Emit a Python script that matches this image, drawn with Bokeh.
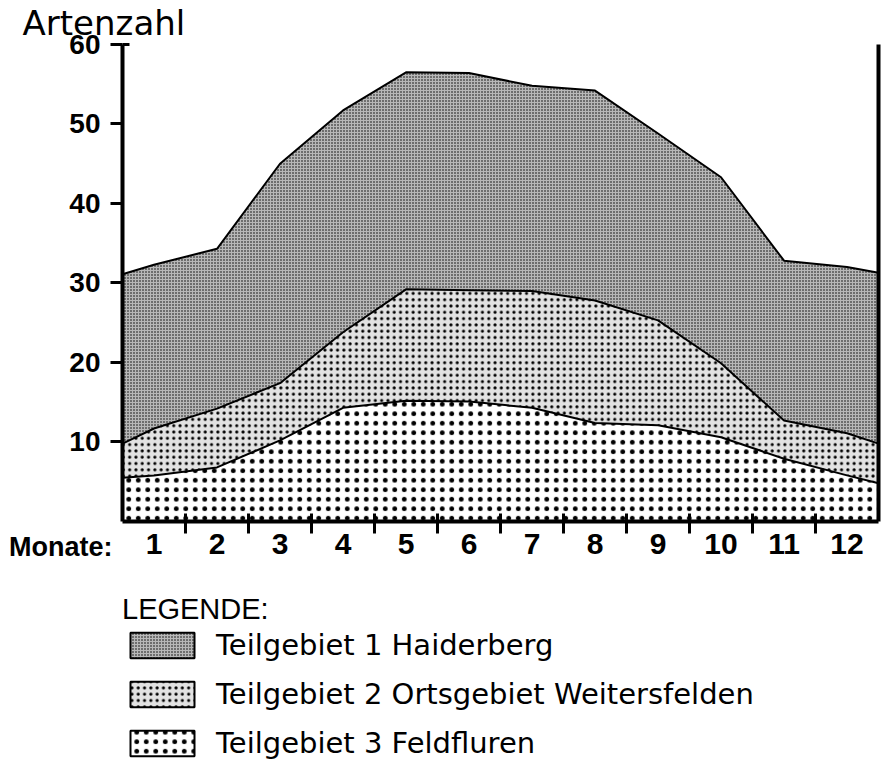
from bokeh.plotting import figure
from bokeh.models import FixedTicker, Range1d, Label, Legend, LegendItem, LinearAxis
from bokeh.embed import file_html
from bokeh.resources import INLINE

# ---- data ----
month_pos = [0, 0.5, 1.5, 2.5, 3.5, 4.5, 5.5, 6.5, 7.5, 8.5, 9.5, 10.5, 11.5, 12]
haiderberg = [31.1, 32.3, 34.3, 45.0, 51.7, 56.5, 56.4, 54.8, 54.2, 48.8, 43.3, 32.8, 32.0, 31.3]
ortsgebiet = [9.8, 11.7, 14.2, 17.4, 23.8, 29.2, 29.1, 29.0, 27.8, 25.3, 19.9, 12.7, 11.1, 9.8]
feldfluren = [5.5, 5.8, 6.8, 10.2, 14.3, 15.2, 15.1, 14.3, 12.4, 12.1, 10.6, 7.9, 5.8, 4.8]
baseline = [0] * len(month_pos)

y_ticks = [10, 20, 30, 40, 50, 60]
month_label_pos = [0.5, 1.5, 2.5, 3.5, 4.5, 5.5, 6.5, 7.5, 8.5, 9.5, 10.5, 11.5]
month_labels = ["1", "2", "3", "4", "5", "6", "7", "8", "9", "10", "11", "12"]
month_bounds = [1, 2, 3, 4, 5, 6, 7, 8, 9, 10, 11]
series_names = ["Teilgebiet 1 Haiderberg",
                "Teilgebiet 2 Ortsgebiet Weitersfelden",
                "Teilgebiet 3 Feldfluren"]

hatch_styles = [dict(fill_color="#b8b8b8", hatch_pattern="dot", hatch_scale=3, hatch_weight=1.4),
                dict(fill_color="#e2e2e2", hatch_pattern="dot", hatch_scale=6.3, hatch_weight=4.2),
                dict(fill_color="white", hatch_pattern="dot", hatch_scale=9.5, hatch_weight=6)]

W, H = 882, 760
p = figure(width=W, height=H, x_range=Range1d(-1.9365, 12.063), y_range=Range1d(-30.06, 65.53),
           output_backend="svg", toolbar_location=None, min_border=0)
p.grid.visible = False
p.outline_line_color = None

a1 = p.varea(x=month_pos, y1=ortsgebiet, y2=haiderberg, hatch_color="black", **hatch_styles[0])
a2 = p.varea(x=month_pos, y1=feldfluren, y2=ortsgebiet, hatch_color="black", **hatch_styles[1])
a3 = p.varea(x=month_pos, y1=baseline, y2=feldfluren, hatch_color="black", **hatch_styles[2])

for ys in (haiderberg, ortsgebiet, feldfluren):
    p.line(month_pos, ys, line_color="black", line_width=2)

# y axis
yax = p.yaxis[0]
yax.fixed_location = 0
yax.bounds = (0, 60)
yax.ticker = FixedTicker(ticks=y_ticks, minor_ticks=[60])
yax.axis_line_width = 4
yax.major_tick_line_width = 3
yax.major_tick_out = 12
yax.major_tick_in = 0
yax.minor_tick_in = 7
yax.minor_tick_out = 0
yax.minor_tick_line_width = 3
yax.major_label_standoff = 10
yax.major_label_text_font = "Liberation Sans"
yax.major_label_text_font_style = "bold"
yax.major_label_text_font_size = "28px"
yax.major_label_text_color = "black"

# x axis
xax = p.xaxis[0]
xax.fixed_location = 0
xax.bounds = (0, 12)
xax.ticker = FixedTicker(ticks=month_label_pos, minor_ticks=month_bounds)
xax.major_label_overrides = {pos: lab for pos, lab in zip(month_label_pos, month_labels)}
xax.axis_line_width = 4
xax.major_tick_line_color = None
xax.major_tick_out = 12
xax.major_tick_in = 0
xax.minor_tick_in = 8
xax.minor_tick_out = 12
xax.minor_tick_line_width = 3
xax.minor_tick_line_color = "black"
xax.major_label_standoff = 0
xax.major_label_text_font = "Liberation Sans"
xax.major_label_text_font_style = "bold"
xax.major_label_text_font_size = "30px"
xax.major_label_text_color = "black"

# right frame line
rax = LinearAxis(fixed_location=12, bounds=(0, 60), ticker=FixedTicker(ticks=[]),
                 axis_line_width=4, major_tick_line_color=None, minor_tick_line_color=None)
p.add_layout(rax, "right")

p.add_layout(Label(x=22, y=H - 22, x_units="screen", y_units="screen", text="Artenzahl",
                   text_font="DejaVu Sans", text_font_size="34px", text_color="black",
                   text_baseline="middle"))
p.add_layout(Label(x=112, y=H - 546, x_units="screen", y_units="screen", text="Monate:",
                   text_align="right", text_font="Liberation Sans", text_font_style="bold",
                   text_font_size="27px", text_color="black", text_baseline="middle"))

# legend: swatch borders via NaN-only quads (nothing drawn in the plot)
nan = float("nan")
items = []
for name, r in zip(series_names, (a1, a2, a3)):
    bx = p.quad(left=[nan], right=[nan], top=[nan], bottom=[nan], fill_color=None,
                line_color="black", line_width=2)
    items.append(LegendItem(label=name, renderers=[r, bx]))
legend = Legend(items=items, title="LEGENDE:", location=(122, 0), orientation="vertical")
legend.glyph_width = 80
legend.glyph_height = 32
legend.label_standoff = 14
legend.spacing = 15
legend.padding = 5
legend.margin = 0
legend.title_standoff = 2
legend.border_line_color = None
legend.background_fill_alpha = 0
legend.label_text_font = "DejaVu Sans"
legend.label_text_font_size = "29px"
legend.label_text_color = "black"
legend.title_text_font = "Liberation Sans"
legend.title_text_font_style = "normal"
legend.title_text_font_size = "29px"
legend.title_text_color = "black"
p.add_layout(legend, "center")

open("out.html", "w").write(file_html(p, INLINE))
